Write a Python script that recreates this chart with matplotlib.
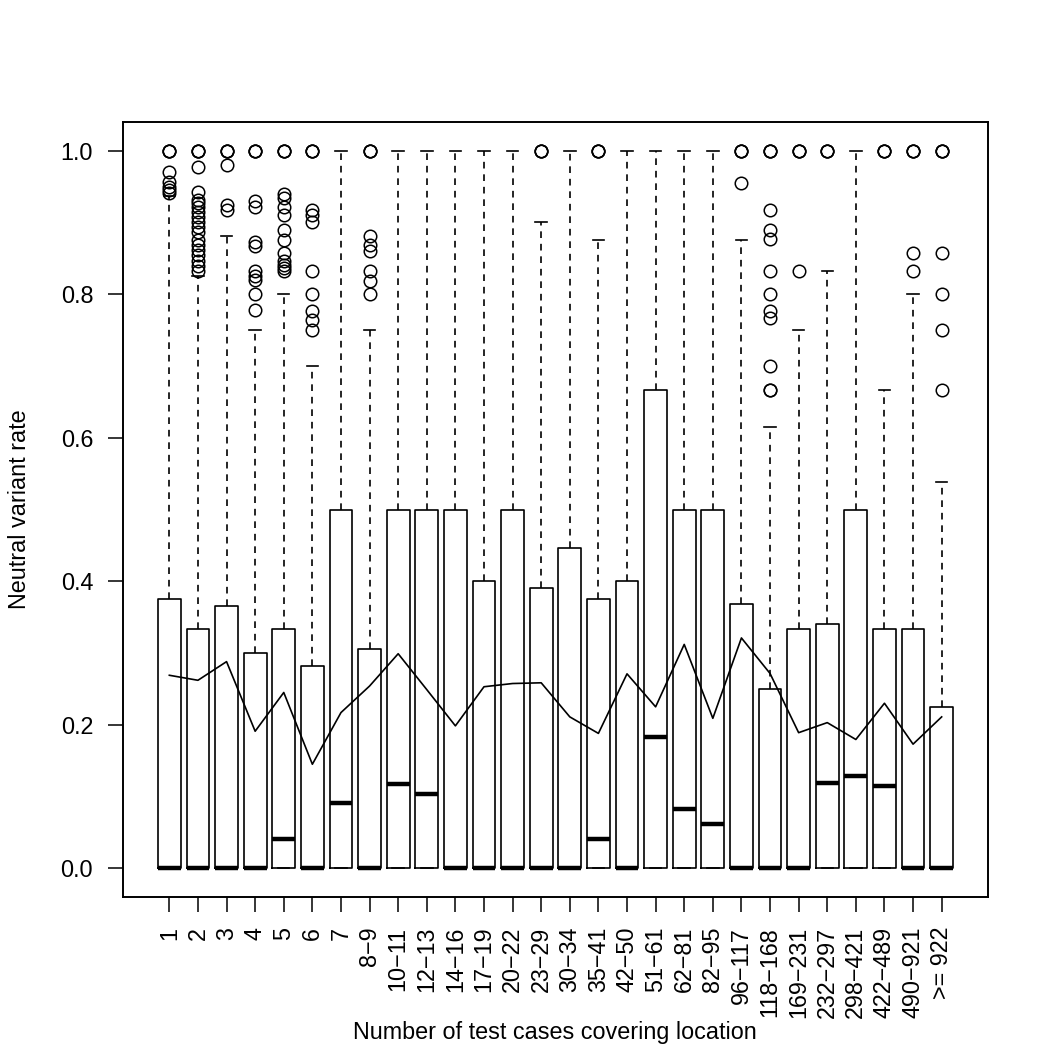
import matplotlib
matplotlib.use("Agg")
import matplotlib.pyplot as plt

plt.rcParams['font.family'] = ['Liberation Sans', 'DejaVu Sans']

# Groups (number of test cases covering location)
labels = ['1', '2', '3', '4', '5', '6', '7', '8\u22129', '10\u221211', '12\u221213',
          '14\u221216', '17\u221219', '20\u221222', '23\u221229', '30\u221234', '35\u221241',
          '42\u221250', '51\u221261', '62\u221281', '82\u221295', '96\u2212117', '118\u2212168',
          '169\u2212231', '232\u2212297', '298\u2212421', '422\u2212489', '490\u2212921', '>= 922']

# Box statistics
q1 = [0.0] * 28
medians = [0, 0, 0, 0, 0.041, 0, 0.091, 0, 0.117, 0.103, 0, 0, 0, 0,
           0, 0.041, 0, 0.183, 0.082, 0.062, 0, 0, 0, 0.119, 0.128, 0.114, 0, 0]
q3 = [0.375, 0.333, 0.366, 0.300, 0.333, 0.282, 0.500, 0.306, 0.500, 0.500,
      0.500, 0.400, 0.500, 0.391, 0.447, 0.375, 0.400, 0.667, 0.500, 0.500,
      0.369, 0.250, 0.333, 0.341, 0.500, 0.333, 0.333, 0.225]
whisk_lo = [0.0] * 28
whisk_hi = [0.9375, 0.825, 0.881, 0.750, 0.800, 0.700, 1.0, 0.750, 1.0, 1.0,
            1.0, 1.0, 1.0, 0.900, 1.0, 0.875, 1.0, 1.0, 1.0, 1.0,
            0.875, 0.615, 0.750, 0.833, 1.0, 0.667, 0.800, 0.538]
outliers = [
    [1, 1, 1, 0.970, 0.957, 0.950, 0.945, 0.941],
    [1, 1, 1, 0.977, 0.942, 0.932, 0.927, 0.922, 0.915, 0.908, 0.901, 0.894,
     0.887, 0.876, 0.869, 0.862, 0.855, 0.846, 0.839, 0.832],
    [1, 1, 1, 0.980, 0.925, 0.918],
    [1, 1, 1, 0.930, 0.921, 0.873, 0.867, 0.833, 0.826, 0.820, 0.800, 0.778],
    [1, 1, 1, 0.939, 0.934, 0.922, 0.911, 0.890, 0.876, 0.857, 0.846, 0.841, 0.836, 0.832],
    [1, 1, 1, 0.918, 0.911, 0.901, 0.833, 0.800, 0.777, 0.764, 0.750],
    [],
    [1, 1, 1, 0.881, 0.868, 0.860, 0.832, 0.818, 0.801],
    [], [], [], [], [],
    [1, 1, 1],
    [],
    [1, 1, 1],
    [], [], [], [],
    [1, 1, 1, 0.955],
    [1, 1, 1, 0.917, 0.889, 0.877, 0.833, 0.800, 0.777, 0.767, 0.700, 0.667, 0.667],
    [1, 1, 1, 0.833],
    [1, 1, 1],
    [],
    [1, 1, 1],
    [1, 1, 1, 0.857, 0.833],
    [1, 1, 1, 0.857, 0.800, 0.750, 0.667],
]
# mean rate per group (the line)
means = [0.269, 0.262, 0.288, 0.191, 0.245, 0.145, 0.217, 0.254, 0.299, 0.249,
         0.1985, 0.253, 0.2575, 0.2585, 0.211, 0.188, 0.271, 0.225, 0.312, 0.209,
         0.321, 0.2715, 0.189, 0.203, 0.1795, 0.230, 0.173, 0.211]

stats = []
for i in range(len(labels)):
    stats.append(dict(med=medians[i], q1=q1[i], q3=q3[i],
                      whislo=whisk_lo[i], whishi=whisk_hi[i], fliers=outliers[i]))

pos = list(range(1, len(labels) + 1))

fig = plt.figure(figsize=(10.5, 10.5), dpi=100)
ax = fig.add_axes([123/1050, 153/1050, 865/1050, 775/1050])

ax.bxp(stats, positions=pos, widths=0.8, showfliers=True,
       boxprops=dict(color='black', linewidth=1.2),
       medianprops=dict(color='black', linewidth=3.2, solid_capstyle='butt'),
       whiskerprops=dict(color='black', linewidth=1.2, linestyle=(0, (4, 3.5))),
       capprops=dict(color='black', linewidth=1.2),
       flierprops=dict(marker='o', markerfacecolor='none', markeredgecolor='black',
                       markersize=9, markeredgewidth=1.1, linestyle='none'))

ax.plot(pos, means, color='black', linewidth=1.2)

ax.set_xlim(0.5 - 0.04 * 28, 28.5 + 0.04 * 28)
ax.set_ylim(-0.04, 1.04)
ax.set_yticks([0.0, 0.2, 0.4, 0.6, 0.8, 1.0])
ax.set_yticklabels(['0.0', '0.2', '0.4', '0.6', '0.8', '1.0'])
ax.set_xticks(pos)
ax.set_xticklabels(labels, rotation=90)
ax.tick_params(axis='both', direction='out', length=10.5, width=1.1,
               labelsize=16.8, pad=11, color='black')
for s in ax.spines.values():
    s.set_linewidth(1.4)

# axis titles placed in figure pixels like the original
fig.text(555/1050, 1 - 1032/1050, 'Number of test cases covering location',
         fontsize=16.8, ha='center', va='center')
fig.text(20/1050, 1 - 509/1050, 'Neutral variant rate',
         fontsize=16.8, ha='center', va='center', rotation=90)

fig.savefig('out.png', dpi=100)
